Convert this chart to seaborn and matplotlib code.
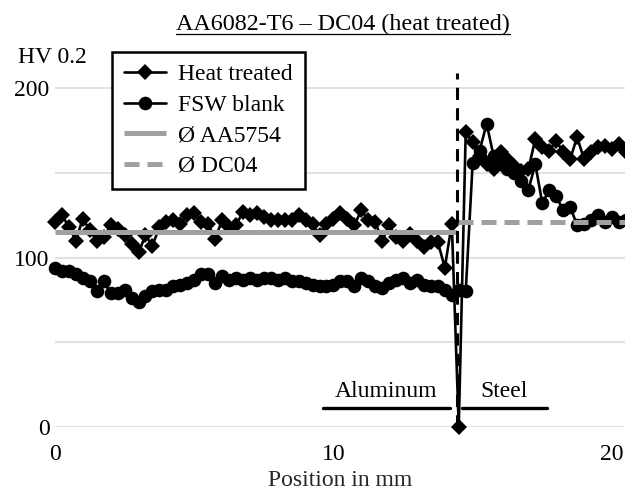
import matplotlib
matplotlib.use("Agg")
import matplotlib.pyplot as plt
from matplotlib.lines import Line2D
import seaborn as sns

sns.set_theme(style="white")
plt.rcParams['font.family'] = ['Liberation Serif', 'DejaVu Serif']
plt.rcParams['text.color'] = 'black'
plt.rcParams['xtick.color'] = 'black'
plt.rcParams['ytick.color'] = 'black'

# measurement positions in mm (0.25 mm steps)
pos_mm = [0.0, 0.25, 0.5, 0.75, 1.0, 1.25, 1.5, 1.75, 2.0, 2.25, 2.5, 2.75,
          3.0, 3.25, 3.5, 3.75, 4.0, 4.25, 4.5, 4.75, 5.0, 5.25, 5.5, 5.75,
          6.0, 6.25, 6.5, 6.75, 7.0, 7.25, 7.5, 7.75, 8.0, 8.25, 8.5, 8.75,
          9.0, 9.25, 9.5, 9.75, 10.0, 10.25, 10.5, 10.75, 11.0, 11.25, 11.5,
          11.75, 12.0, 12.25, 12.5, 12.75, 13.0, 13.25, 13.5, 13.75, 14.0,
          14.25, 14.5, 14.75, 15.0, 15.25, 15.5, 15.75, 16.0, 16.25, 16.5,
          16.75, 17.0, 17.25, 17.5, 17.75, 18.0, 18.25, 18.5, 18.75, 19.0,
          19.25, 19.5, 19.75, 20.0, 20.25, 20.5]

heat_treated = [121, 125, 118, 110, 123, 116, 110, 112, 119, 117, 113, 108,
                103, 113, 107, 118, 121, 122, 120, 125, 126, 121, 120, 111,
                122, 118, 119, 127, 125, 126, 124, 122, 122, 122, 122, 125,
                122, 120, 113, 120, 123, 126, 123, 119, 128, 122, 121, 110,
                119, 112, 110, 114, 110, 106, 109, 109, 94, 120, 0, 174,
                168, 160, 155, 152, 162, 158, 154, 151, 152, 170, 165, 163,
                169, 162, 158, 171, 158, 162, 165, 166, 164, 167, 162]

fsw_blank = [94, 92, 92, 90, 88, 86, 80, 86, 79, 79, 81, 76,
             74, 77, 80, 81, 81, 83, 84, 85, 87, 90, 90, 85,
             89, 87, 88, 87, 88, 87, 88, 88, 87, 88, 86, 86,
             85, 84, 83, 83, 84, 86, 86, 83, 88, 86, 83, 82,
             85, 87, 88, 85, 87, 84, 83, 83, 81, 78, 81, 80,
             156, 163, 179, 160, 155, 152, 150, 145, 140, 155, 132, 140,
             136, 128, 130, 119, 120, 122, 125, 121, 124, 121, 122]

# mean hardness of the base materials
aa5754_x = [0.0, 14.43]
aa5754_hv = [115, 115]
dc04_x = [14.47, 20.5]
dc04_hv = [121, 121]

# joint line and material regions
joint_x = [14.43, 14.43]
joint_hv = [0, 209]
al_region = [9.62, 14.18]
steel_region = [14.61, 17.67]
region_line_hv = 11.2
region_text_hv = 17.7

fig = plt.figure(figsize=(6.25, 4.93), dpi=100)
ax = fig.add_axes([55 / 625, 66 / 493, 570 / 625, (212 * 1.695) / 493])

sns.lineplot(x=pos_mm, y=heat_treated, ax=ax, color='black', lw=1.9,
             marker='D', markersize=8.3, markeredgewidth=0, estimator=None,
             label='Heat treated', clip_on=False, zorder=3)
sns.lineplot(x=pos_mm, y=fsw_blank, ax=ax, color='black', lw=1.9,
             marker='o', markersize=9.8, markeredgewidth=0, estimator=None,
             label='FSW blank', clip_on=False, zorder=3)
ax.plot(aa5754_x, aa5754_hv, color='#a0a0a0', lw=3.6, solid_capstyle='butt',
        label='Ø AA5754', zorder=4)
ax.plot(dc04_x, dc04_hv, color='#a0a0a0', lw=3.6, dashes=(3, 1.6),
        label='Ø DC04', zorder=4)
ax.plot(joint_x, joint_hv, color='black', lw=2.2, dashes=(4, 2.7),
        clip_on=False, zorder=5)

ax.plot(al_region, [region_line_hv] * 2, color='black', lw=2.4, zorder=5)
ax.plot(steel_region, [region_line_hv] * 2, color='black', lw=2.4, zorder=5)
ax.text(sum(al_region) / 2, region_text_hv, 'Aluminum', ha='center',
        va='baseline', fontsize=17)
ax.text(sum(steel_region) / 2, region_text_hv, 'Steel', ha='center',
        va='baseline', fontsize=17)

ax.set_xlim(0, 20.47)
ax.set_ylim(0, 212)
ax.set_xticks([0, 10, 20])
ax.set_yticks([0, 100, 200])
ax.set_yticks([50, 150], minor=True)
ax.grid(True, which='both', axis='y', color='#d9d9d9', lw=1.1)
ax.grid(False, axis='x')
ax.set_axisbelow(True)
for s in ax.spines.values():
    s.set_visible(False)
ax.tick_params(axis='both', which='both', length=0, labelsize=17)
ax.tick_params(axis='y', pad=4)
ax.tick_params(axis='x', pad=12)
ax.set_xlabel('Position in mm', fontsize=17, labelpad=4)
ax.set_ylabel('')

fig.text(52 / 625, 1 - 63 / 493, 'HV 0.2', ha='center', va='baseline',
         fontsize=17)
title = fig.text(343 / 625, 1 - 30 / 493, 'AA6082-T6 – DC04 (heat treated)',
                 ha='center', va='baseline', fontsize=17.4)

ax.get_legend().remove()
handles, labels = ax.get_legend_handles_labels()
leg = fig.legend(handles, labels, loc='upper left',
                 bbox_to_anchor=(112 / 625, 1 - 52 / 493), fontsize=17,
                 frameon=True, fancybox=False, framealpha=1, numpoints=1,
                 handlelength=1.8, handletextpad=0.5, labelspacing=0.38,
                 borderpad=0.5, borderaxespad=0)
leg.get_frame().set_edgecolor('black')
leg.get_frame().set_linewidth(1.8)

# underline the title
fig.canvas.draw()
bb = title.get_window_extent().transformed(fig.transFigure.inverted())
uy = 1 - 34 / 493
fig.add_artist(Line2D([bb.x0, bb.x1], [uy, uy], color='black', lw=0.9,
                      transform=fig.transFigure))

fig.savefig('out.png', dpi=100)
